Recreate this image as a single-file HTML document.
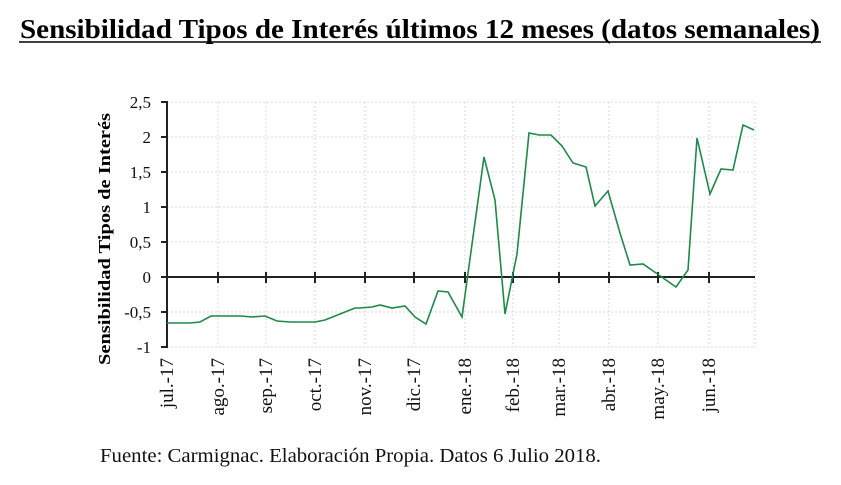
<!DOCTYPE html>
<html><head><meta charset="utf-8"><style>
html,body{margin:0;padding:0;background:#fff;}
</style></head><body>
<svg width="841" height="480" xmlns="http://www.w3.org/2000/svg">
<rect width="841" height="480" fill="#fff"/>
<text x="20" y="38" textLength="800" lengthAdjust="spacingAndGlyphs" font-family="Liberation Serif, serif" font-weight="bold" font-size="27">Sensibilidad Tipos de Interés últimos 12 meses (datos semanales)</text>
<line x1="19" y1="42" x2="821" y2="42" stroke="#000" stroke-width="1.5"/>
<g stroke="#d8d8d8" stroke-width="1" stroke-dasharray="2,2">
<line x1="167" y1="102" x2="755" y2="102"/><line x1="167" y1="137" x2="755" y2="137"/>
<line x1="167" y1="172" x2="755" y2="172"/><line x1="167" y1="207" x2="755" y2="207"/>
<line x1="167" y1="242" x2="755" y2="242"/><line x1="167" y1="312" x2="755" y2="312"/>
<line x1="167" y1="347" x2="755" y2="347"/>
<line x1="218" y1="102" x2="218" y2="347"/><line x1="266" y1="102" x2="266" y2="347"/>
<line x1="315" y1="102" x2="315" y2="347"/><line x1="365" y1="102" x2="365" y2="347"/>
<line x1="414" y1="102" x2="414" y2="347"/><line x1="465" y1="102" x2="465" y2="347"/>
<line x1="513" y1="102" x2="513" y2="347"/><line x1="559" y1="102" x2="559" y2="347"/>
<line x1="609" y1="102" x2="609" y2="347"/><line x1="658" y1="102" x2="658" y2="347"/>
<line x1="709" y1="102" x2="709" y2="347"/><line x1="755" y1="102" x2="755" y2="347"/>
</g>
<g stroke="#222" stroke-width="2">
<line x1="167" y1="101" x2="167" y2="348"/>
<line x1="167" y1="277" x2="755" y2="277"/>
<line x1="161" y1="102" x2="167" y2="102"/><line x1="161" y1="137" x2="167" y2="137"/>
<line x1="161" y1="172" x2="167" y2="172"/><line x1="161" y1="207" x2="167" y2="207"/>
<line x1="161" y1="242" x2="167" y2="242"/><line x1="161" y1="277" x2="167" y2="277"/>
<line x1="161" y1="312" x2="167" y2="312"/><line x1="161" y1="347" x2="167" y2="347"/>
<line x1="218" y1="272" x2="218" y2="283"/><line x1="266" y1="272" x2="266" y2="283"/>
<line x1="315" y1="272" x2="315" y2="283"/><line x1="365" y1="272" x2="365" y2="283"/>
<line x1="414" y1="272" x2="414" y2="283"/><line x1="465" y1="272" x2="465" y2="283"/>
<line x1="513" y1="272" x2="513" y2="283"/><line x1="559" y1="272" x2="559" y2="283"/>
<line x1="609" y1="272" x2="609" y2="283"/><line x1="658" y1="272" x2="658" y2="283"/>
<line x1="709" y1="272" x2="709" y2="283"/>
</g>
<g font-family="Liberation Serif, serif" font-size="17" text-anchor="end" fill="#111">
<text x="151" y="108">2,5</text><text x="151" y="143">2</text><text x="151" y="178">1,5</text>
<text x="151" y="213">1</text><text x="151" y="248">0,5</text><text x="151" y="283">0</text>
<text x="151" y="318">-0,5</text><text x="151" y="353">-1</text>
</g>
<text transform="translate(110,239) rotate(-90)" x="-126" textLength="252" lengthAdjust="spacingAndGlyphs" font-family="Liberation Serif, serif" font-weight="bold" font-size="17">Sensibilidad Tipos de Interés</text>
<g font-family="Liberation Serif, serif" font-size="19" text-anchor="end" fill="#111">
<text transform="translate(173,358) rotate(-90)">jul.-17</text>
<text transform="translate(224,358) rotate(-90)">ago.-17</text>
<text transform="translate(272,358) rotate(-90)">sep.-17</text>
<text transform="translate(321,358) rotate(-90)">oct.-17</text>
<text transform="translate(371,358) rotate(-90)">nov.-17</text>
<text transform="translate(420,358) rotate(-90)">dic.-17</text>
<text transform="translate(471,358) rotate(-90)">ene.-18</text>
<text transform="translate(519,358) rotate(-90)">feb.-18</text>
<text transform="translate(565,358) rotate(-90)">mar.-18</text>
<text transform="translate(615,358) rotate(-90)">abr.-18</text>
<text transform="translate(664,358) rotate(-90)">may.-18</text>
<text transform="translate(715,358) rotate(-90)">jun.-18</text>
</g>
<polyline fill="none" stroke="#1e8a4a" stroke-width="1.6" points="167,323 190,323 200,322 211,316 230,316 241,316 252,317 265,316 277,321 290,322 305,322 315,322 325,320 340,314 355,308 360,308 372,307 380,305 392,308 405,306 415,317 426,324 438,291 448,292 462,317 484,157 495,200 505,314 517,254 529,133 539,135 551,135 562,146 573,163 586,167 595,206 608,191 620,233 630,265 643,264 656,273 676,287 688,270 697,138 710,194 721,169 733,170 743,125 754,130"/>
<text x="100" y="462" textLength="501" lengthAdjust="spacingAndGlyphs" font-family="Liberation Serif, serif" font-size="20" fill="#111">Fuente: Carmignac. Elaboración Propia. Datos 6 Julio 2018.</text>
</svg>
</body></html>
